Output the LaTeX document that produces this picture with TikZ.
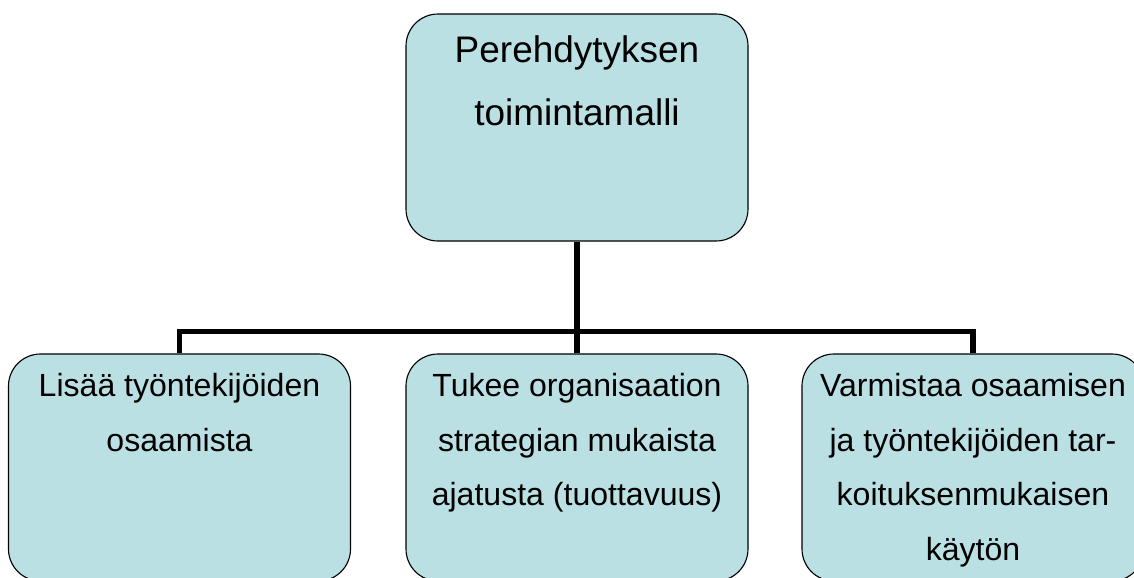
\documentclass[tikz,border=0pt]{standalone}
\usepackage{fontspec}
\setmainfont{Liberation Sans}
\usetikzlibrary{positioning}
\definecolor{cteal}{HTML}{BBE0E3}
\tikzset{
  every picture/.style={line width=0.8pt},
  box/.style={draw=black, fill=cteal, rounded corners=0.8cm, minimum width=8.55cm, minimum height=5.675cm, inner sep=0pt},
  link/.style={draw=black, line width=3.7pt},
  bigtext/.style={align=center, inner sep=0pt, font=\fontsize{26.3}{44.8}\selectfont},
  smalltext/.style={align=center, inner sep=0pt, font=\fontsize{22.8}{39.1}\selectfont},
}
\begin{document}
\begin{tikzpicture}
  \useasboundingbox (0,0) rectangle (28.35,-14.425);
  \clip (0,0) rectangle (28.35,-14.425);
  % top box
  \node[box] (model) at (14.425,-3.1875) {};
  \node[bigtext, below=0.54cm of model.north] (model-txt) {Perehdytyksen\\toimintamalli};
  % bottom row
  \node[box] (skills) at (4.4875,-11.6875) {};
  \node[box] (strategy) at (14.425,-11.6875) {};
  \node[box] (usage) at (24.325,-11.6875) {};
  \node[smalltext, below=0.47cm of skills.north] (skills-txt) {Lisää työntekijöiden\\osaamista};
  \node[smalltext, below=0.47cm of strategy.north] (strategy-txt) {Tukee organisaation\\strategian mukaista\\ajatusta (tuottavuus)};
  \node[smalltext, below=0.47cm of usage.north] (usage-txt) {Varmistaa osaamisen\\ja työntekijöiden tar-\\koituksenmukaisen\\käytön};
  % connectors
  \draw[link] (model.south) -- ++(0,-2.25) coordinate (hub);
  \draw[link] (skills.north) |- (hub) -| (usage.north);
  \draw[link] (hub) -- (strategy.north);
\end{tikzpicture}
\end{document}
